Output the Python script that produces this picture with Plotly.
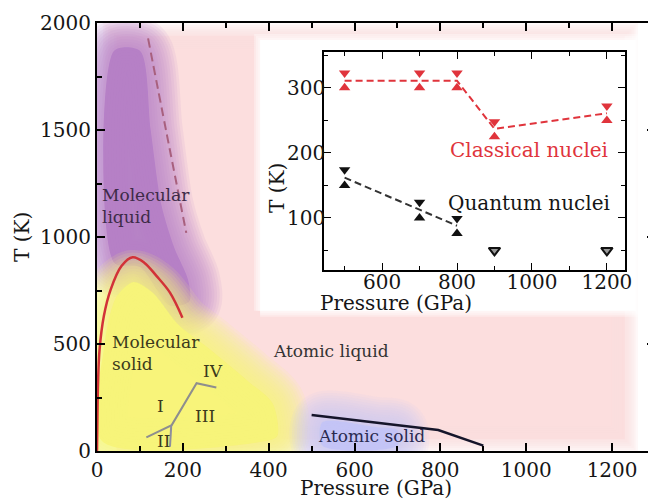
import plotly.graph_objects as go

# ---------------- data ----------------
# main phase diagram curves (Pressure GPa, Temperature K)
melt_p = [0, 1, 2.5, 6, 16, 32, 57, 83, 110, 139, 170, 199]
melt_t = [0, 165, 321, 475, 631, 755, 864, 905, 880, 817, 740, 623]

dash_p = [119, 162, 208]
dash_t = [1928, 1486, 1019]

phase_line_p = [115, 174, 232, 278]
phase_line_t = [64, 121, 317, 297]
phase_vert_p = [173, 170]
phase_vert_t = [121, 20]

atomic_solid_p = [500, 795, 900]
atomic_solid_t = [168, 98, 25]

# background regions (decorative, soft-edged)
pink_p = [45, 1230, 1230, 45]
pink_t = [55, 55, 1940, 1940]
white_p = [380, 1255, 1255, 380]
white_t = [655, 655, 1920, 1920]
purple_p = [40, 100, 125, 150, 180, 212, 215, 170, 100, 40]
purple_t = [1870, 1870, 1500, 1150, 950, 800, 700, 680, 860, 880]
yellow_p = [12, 16, 45, 85, 130, 190, 260, 350, 410, 420, 390]
yellow_t = [45, 480, 720, 790, 740, 590, 480, 330, 220, 70, 45]
blue_p = [525, 650, 700, 700, 525]
blue_t = [135, 112, 98, 25, 25]

# inset data
inset_p = [500, 700, 800, 900, 1200]
classical_upper = [323, 323, 323, 248, 272]
classical_lower = [300, 300, 300, 225, 250]
classical_mid = [311, 311, 311, 237, 261]
quantum_p = [500, 700, 800]
quantum_upper = [174, 124, 99]
quantum_lower = [150, 100, 76]
quantum_mid = [162, 112, 88]
quantum_open_p = [900, 1200]
quantum_open_t = [50, 50]

FONT = "DejaVu Serif"
TXT = "#151515"

fig = go.Figure()


def soft_region(p, t, rgb, maxw, n, alpha, shape="spline"):
    xs = p + [p[0]]
    ys = t + [t[0]]
    r, g, b = rgb
    fig.add_trace(go.Scatter(x=xs, y=ys, mode="lines", fill="toself",
                             fillcolor=f"rgb({r},{g},{b})",
                             line=dict(width=0, shape=shape, smoothing=0.8),
                             hoverinfo="skip", showlegend=False))
    for k in range(n, 0, -1):
        fig.add_trace(go.Scatter(x=xs, y=ys, mode="lines",
                                 line=dict(color=f"rgba({r},{g},{b},{alpha})", width=maxw * k / n,
                                           shape=shape, smoothing=0.8),
                                 hoverinfo="skip", showlegend=False))


soft_region(pink_p, pink_t, (252, 222, 222), 26, 6, 0.22, shape="linear")
soft_region(purple_p, purple_t, (184, 132, 198), 64, 12, 0.11)
soft_region(yellow_p, yellow_t, (248, 244, 122), 64, 12, 0.12)
soft_region(blue_p, blue_t, (196, 196, 246), 60, 12, 0.11)
soft_region(white_p, white_t, (255, 255, 255), 12, 3, 0.35, shape="linear")

# curves
fig.add_trace(go.Scatter(x=melt_p, y=melt_t, mode="lines",
                         line=dict(color="#d23238", width=2.5, shape="spline"),
                         showlegend=False))
fig.add_trace(go.Scatter(x=dash_p, y=dash_t, mode="lines",
                         line=dict(color="#a8607e", width=2, dash="9px,5px", shape="spline"),
                         showlegend=False))
fig.add_trace(go.Scatter(x=phase_line_p, y=phase_line_t, mode="lines",
                         line=dict(color="#8e8e8e", width=2), showlegend=False))
fig.add_trace(go.Scatter(x=phase_vert_p, y=phase_vert_t, mode="lines",
                         line=dict(color="#8e8e9e", width=2), showlegend=False))
fig.add_trace(go.Scatter(x=atomic_solid_p, y=atomic_solid_t, mode="lines",
                         line=dict(color="#15152a", width=2.5), showlegend=False))

# inset traces
RED = "#e0343c"
fig.add_trace(go.Scatter(x=inset_p, y=classical_mid, mode="lines", xaxis="x2", yaxis="y2",
                         line=dict(color=RED, width=2, dash="7px,4px"), showlegend=False))
fig.add_trace(go.Scatter(x=inset_p, y=classical_upper, mode="markers", xaxis="x2", yaxis="y2",
                         marker=dict(symbol="triangle-down", size=10, color=RED), showlegend=False))
fig.add_trace(go.Scatter(x=inset_p, y=classical_lower, mode="markers", xaxis="x2", yaxis="y2",
                         marker=dict(symbol="triangle-up", size=10, color=RED), showlegend=False))
fig.add_trace(go.Scatter(x=quantum_p, y=quantum_mid, mode="lines", xaxis="x2", yaxis="y2",
                         line=dict(color="#333333", width=2, dash="7px,4px"), showlegend=False))
fig.add_trace(go.Scatter(x=quantum_p, y=quantum_upper, mode="markers", xaxis="x2", yaxis="y2",
                         marker=dict(symbol="triangle-down", size=10, color="#111"), showlegend=False))
fig.add_trace(go.Scatter(x=quantum_p, y=quantum_lower, mode="markers", xaxis="x2", yaxis="y2",
                         marker=dict(symbol="triangle-up", size=10, color="#111"), showlegend=False))
fig.add_trace(go.Scatter(x=quantum_open_p, y=quantum_open_t, mode="markers", xaxis="x2", yaxis="y2",
                         marker=dict(symbol="triangle-down", size=10, color="#999",
                                     line=dict(color="#111", width=2)), showlegend=False))

labels = [
    ("Molecular<br>liquid", 7, 1145, "#3d2b48", "left"),
    ("Molecular<br>solid", 30, 460, "#3b3a1c", "left"),
    ("Atomic liquid", 545, 466, "#333333", "center"),
    ("Atomic solid", 640, 70, "#2a2a50", "center"),
    ("I", 149, 211, "#3b3a1c", "center"),
    ("II", 154, 48, "#3b3a1c", "center"),
    ("III", 251, 165, "#3b3a1c", "center"),
    ("IV", 270, 374, "#3b3a1c", "center"),
]
annotations = []
for txt, px, ty, col, anc in labels:
    annotations.append(dict(text=txt, x=px, y=ty, xref="x", yref="y", showarrow=False,
                            xanchor=anc, yanchor="middle", align="left",
                            font=dict(family=FONT, size=17, color=col)))
annotations.append(dict(text="Classical nuclei", x=992, y=205, xref="x2", yref="y2",
                        showarrow=False, font=dict(family=FONT, size=20, color=RED)))
annotations.append(dict(text="Quantum nuclei", x=992, y=123, xref="x2", yref="y2",
                        showarrow=False, font=dict(family=FONT, size=20, color=TXT)))

# axis titles as annotations (positioned relative to the axes)
IN_X = [0.4068, 0.946]
IN_Y = [0.4229, 0.932]
annotations += [
    dict(text="Pressure (GPa)", xref="paper", yref="paper", x=0.5, y=0, yshift=-37,
         showarrow=False, yanchor="middle", font=dict(family=FONT, size=20, color=TXT)),
    dict(text="T (K)", xref="paper", yref="paper", x=0, y=0.5, xshift=-75, textangle=-90,
         showarrow=False, xanchor="center", font=dict(family=FONT, size=20, color=TXT)),
    dict(text="Pressure (GPa)", xref="paper", yref="paper", x=sum(IN_X) / 2, y=IN_Y[0], yshift=-33,
         showarrow=False, yanchor="middle", font=dict(family=FONT, size=20, color=TXT)),
    dict(text="T (K)", xref="paper", yref="paper", x=IN_X[0], y=sum(IN_Y) / 2, xshift=-47,
         textangle=-90, showarrow=False, xanchor="center", font=dict(family=FONT, size=20, color=TXT)),
]

axis_common = dict(showline=True, linecolor="black", mirror="ticks", ticks="inside",
                   showgrid=False, zeroline=False, tickcolor="black", automargin=False,
                   tickfont=dict(family=FONT, size=20, color=TXT))

# page body has an 8px margin: offset margins so the plot lands where the reference has it
fig.update_layout(
    width=656, height=500,
    margin=dict(l=89, r=9, t=15, b=57),
    paper_bgcolor="white", plot_bgcolor="white",
    annotations=annotations,
    xaxis=dict(range=[0, 1300], tickvals=[0, 200, 400, 600, 800, 1000, 1200],
               ticklen=8, tickwidth=1.5, linewidth=2,
               minor=dict(dtick=100, ticklen=5, ticks="inside", tickcolor="black", tickwidth=1.5),
               **axis_common),
    yaxis=dict(range=[0, 2000], tickvals=[0, 500, 1000, 1500, 2000],
               ticklen=8, tickwidth=1.5, linewidth=2,
               minor=dict(dtick=250, ticklen=5, ticks="inside", tickcolor="black", tickwidth=1.5),
               **axis_common),
    xaxis2=dict(domain=IN_X, anchor="y2", range=[445, 1248],
                tickvals=[600, 800, 1000, 1200], ticklen=7, tickwidth=1.2, linewidth=1.5,
                ticklabelstandoff=-7,
                minor=dict(dtick=100, ticklen=4, ticks="inside", tickcolor="black"),
                **axis_common),
    yaxis2=dict(domain=IN_Y, anchor="x2", range=[20, 355],
                tickvals=[100, 200, 300], ticklen=7, tickwidth=1.2, linewidth=1.5,
                ticklabelstandoff=-7,
                minor=dict(dtick=50, ticklen=4, ticks="inside", tickcolor="black"),
                **axis_common),
)

fig.write_html("out.html")
